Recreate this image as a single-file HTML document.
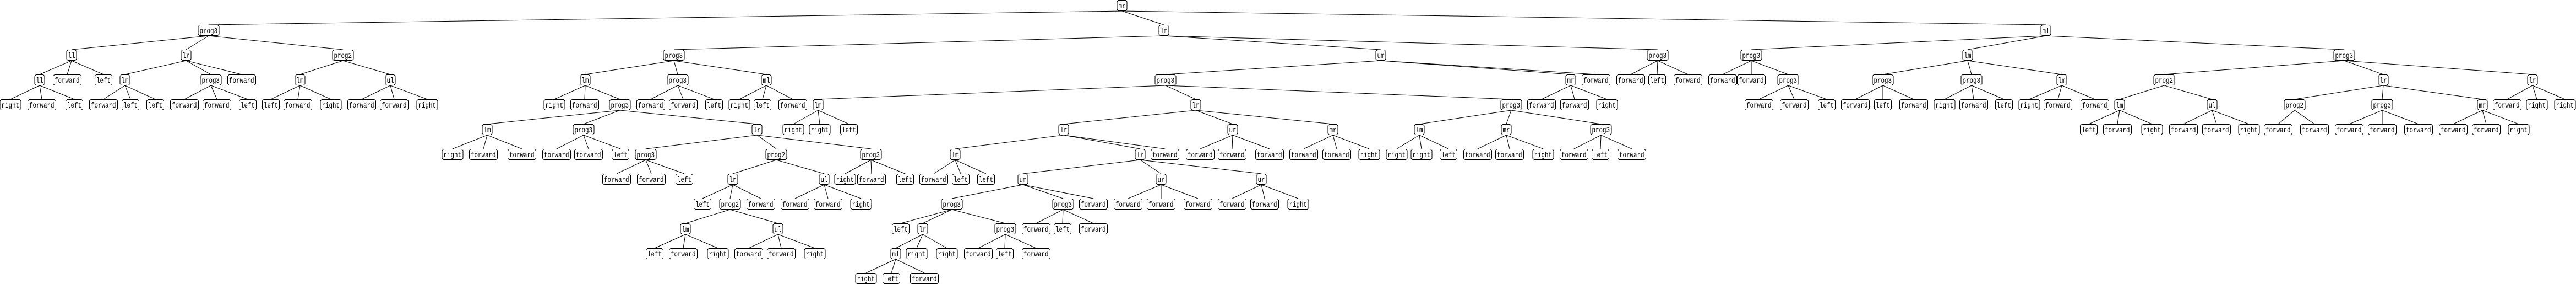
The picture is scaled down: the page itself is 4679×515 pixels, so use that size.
<!DOCTYPE html>
<html><head><meta charset="utf-8">
<style>
html,body{margin:0;padding:0;background:#fff;}
svg{display:block;}
text{font-family:"Liberation Mono","DejaVu Sans Mono",monospace;font-size:14px;fill:#000;}
</style></head>
<body>
<svg id="s" xmlns="http://www.w3.org/2000/svg" width="4679" height="515" viewBox="0 0 4679 515">
<g id="e" stroke="#000" stroke-width="1" fill="none"></g>
<g id="n"></g>
</svg>
<script>
var T=["mr",2038,[
 ["prog3",379,[
   ["ll",130,[["ll",72,[["right",19],["forward",76],["left",135]]],["forward",122],["left",188]]],
   ["lr",338,[["lm",227,[["forward",188],["left",237],["left",282]]],["prog3",383,[["forward",335],["forward",394],["left",450]]],["forward",439]]],
   ["prog2",623,[["lm",545,[["left",492],["forward",541],["right",601]]],["ul",709,[["forward",657],["forward",716],["right",776]]]]]
 ]],
 ["lm",2114,[
   ["prog3",1224,[
     ["lm",1063,[["right",1007],["forward",1062],["prog3",1126,[
        ["lm",885,[["right",822],["forward",878],["forward",948]]],
        ["prog3",1060,[["forward",1011],["forward",1069],["left",1127]]],
        ["lr",1375,[
          ["prog3",1173,[["forward",1120],["forward",1183],["left",1243]]],
          ["prog2",1410,[
             ["lr",1331,[["left",1276],["prog2",1326,[["lm",1245,[["left",1189],["forward",1241],["right",1304]]],["ul",1413,[["forward",1360],["forward",1419],["right",1480]]]]],["forward",1382]]],
             ["ul",1497,[["forward",1444],["forward",1504],["right",1564]]]]],
          ["prog3",1582,[["right",1535],["forward",1583],["left",1644]]]]]]]]],
     ["prog3",1231,[["forward",1182],["forward",1241],["left",1297]]],
     ["ml",1392,[["right",1343],["left",1385],["forward",1440]]]]],
   ["um",2508,[
     ["prog3",2117,[
        ["lm",1486,[["right",1441],["right",1489],["left",1542]]],
        ["lr",2172,[
          ["lr",1932,[
            ["lm",1735,[["forward",1696],["left",1745],["left",1791]]],
            ["lr",2071,[
              ["um",1858,[
                 ["prog3",1729,[["left",1636],["lr",1676,[["ml",1627,[["right",1573],["left",1619],["forward",1679]]],["right",1665],["right",1720]]],["prog3",1826,[["forward",1777],["left",1825],["forward",1882]]]]],
                 ["prog3",1931,[["forward",1882],["left",1930],["forward",1986]]],
                 ["forward",1986]]],
              ["ur",2109,[["forward",2049],["forward",2109],["forward",2176]]],
              ["ur",2291,[["forward",2238],["forward",2297],["right",2358]]]]],
            ["forward",2116]]],
          ["ur",2239,[["forward",2180],["forward",2238],["forward",2306]]],
          ["mr",2421,[["forward",2368],["forward",2428],["right",2487]]]]],
        ["prog3",2745,[
          ["lm",2578,[["right",2537],["right",2582],["left",2631]]],
          ["mr",2736,[["forward",2684],["forward",2742],["right",2803]]],
          ["prog3",2908,[["forward",2859],["left",2907],["forward",2964]]]]]]],
     ["mr",2853,[["forward",2800],["forward",2860],["right",2919]]],
     ["forward",2899]]],
   ["prog3",3011,[["forward",2962],["left",3010],["forward",3066]]]]],
 ["ml",3716,[
   ["prog3",3181,[["forward",3129],["forward",3181],["prog3",3248,[["forward",3195],["forward",3259],["left",3318]]]]],
   ["lm",3574,[
     ["prog3",3420,[["forward",3370],["left",3420],["forward",3476]]],
     ["prog3",3581,[["right",3532],["forward",3585],["left",3640]]],
     ["lm",3745,[["right",3686],["forward",3738],["forward",3805]]]]],
   ["prog3",4258,[
     ["prog2",3931,[
       ["lm",3850,[["left",3794],["forward",3846],["right",3909]]],
       ["ul",4018,[["forward",3966],["forward",4026],["right",4085]]]]],
     ["lr",4329,[
       ["prog2",4168,[["forward",4138],["forward",4204]]],
       ["prog3",4327,[["forward",4267],["forward",4327],["forward",4393]]],
       ["mr",4509,[["forward",4456],["forward",4516],["right",4575]]]]],
     ["lr",4600,[["forward",4554],["right",4608],["right",4659]]]]]]]
]];
var NS="http://www.w3.org/2000/svg",E=document.getElementById("e"),N=document.getElementById("n");
function mk(t,a,p){var el=document.createElementNS(NS,t);for(var k in a)el.setAttribute(k,a[k]);p.appendChild(el);return el;}
function draw(nd,d){
  var lab=nd[0],x=nd[1],y=10+45*d,w=Math.round(6.5*lab.length+6),h=20;
  var x0=x-w/2+0.5,y0=y-10+0.5,c=2.5;
  mk("path",{d:"M"+(x0+c)+","+y0+"H"+(x0+w-1-c)+"L"+(x0+w-1)+","+(y0+c)+"V"+(y0+h-1-c)+"L"+(x0+w-1-c)+","+(y0+h-1)+"H"+(x0+c)+"L"+x0+","+(y0+h-1-c)+"V"+(y0+c)+"Z",fill:"#fff",stroke:"#000","stroke-width":1},N);
  var t=mk("text",{x:x-w/2+3,y:y+5,textLength:(6.5*lab.length).toFixed(1),lengthAdjust:"spacingAndGlyphs"},N);
  t.textContent=lab;
  if(nd[2])nd[2].forEach(function(ch){
    mk("line",{x1:x,y1:y+10,x2:ch[1],y2:y+45-10},E);
    draw(ch,d+1);
  });
}
draw(T,0);
</script>
</body></html>
